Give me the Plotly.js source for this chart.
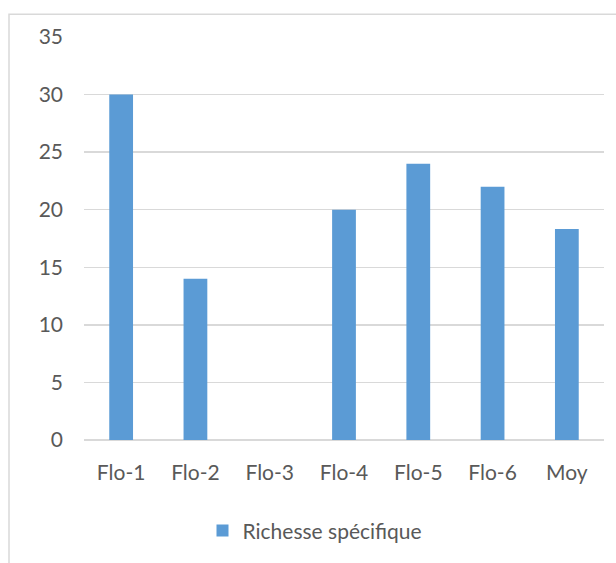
<!DOCTYPE html>
<html>
<head>
<meta charset="utf-8">
<script src="https://cdn.plot.ly/plotly-3.0.1.min.js"></script>
<style>
  html, body { margin: 0; padding: 0; background: #ffffff; }
  #chart { width: 616px; height: 563px; }
</style>
</head>
<body>
<div id="chart"></div>
<script>
// Species richness per floristic station, plus the mean
const categories = ["Flo-1", "Flo-2", "Flo-3", "Flo-4", "Flo-5", "Flo-6", "Moy"];
const richesse = [30, 14, 0, 20, 24, 22, 18.33];
const seriesName = "Richesse spécifique";
const yTicks = [0, 5, 10, 15, 20, 25, 30, 35];

const textColor = "#595959";
const gridColor = "#d9d9d9";
const barColor = "#5b9bd5";
const fontFamily = "Lato, 'Open Sans', sans-serif";
const fontSize = 21;

// plot area geometry (pixels) used to place the outer frame and legend
const W = 616, H = 563;
const m = { l: 84, r: 12, t: 37, b: 120.5 };
const pw = W - m.l - m.r, ph = H - m.t - m.b;
const px = x => (x - m.l) / pw;
const py = y => (H - m.b - y) / ph;

const trace = {
  type: "bar",
  x: categories,
  y: richesse,
  name: seriesName,
  marker: { color: barColor, line: { width: 0 } },
  width: 0.32,
  hoverinfo: "x+y"
};

const layout = {
  width: W,
  height: H,
  margin: m,
  paper_bgcolor: "#ffffff",
  plot_bgcolor: "#ffffff",
  font: { family: fontFamily, size: fontSize, color: textColor },
  showlegend: true,
  legend: {
    orientation: "h",
    x: px(315), xanchor: "center",
    y: py(534), yanchor: "middle",
    font: { family: fontFamily, size: fontSize, color: textColor },
    itemwidth: 30
  },
  xaxis: {
    type: "category",
    showgrid: false,
    showline: false,
    zeroline: false,
    ticks: "",
    ticklabelstandoff: 18,
    tickfont: { family: fontFamily, size: fontSize, color: textColor },
    fixedrange: true
  },
  yaxis: {
    range: [0, 35],
    tickvals: yTicks,
    showgrid: true,
    gridcolor: gridColor,
    gridwidth: 1.5,
    zeroline: true,
    zerolinecolor: gridColor,
    zerolinewidth: 1.5,
    showline: false,
    ticks: "",
    ticklabelstandoff: 20,
    tickfont: { family: fontFamily, size: fontSize, color: textColor },
    fixedrange: true
  },
  shapes: [{
    type: "rect",
    xref: "paper", yref: "paper",
    x0: px(9), x1: px(W + 30),
    y0: py(H + 30), y1: py(14),
    line: { color: gridColor, width: 1.5 },
    fillcolor: "rgba(0,0,0,0)",
    layer: "below"
  }]
};

Plotly.newPlot("chart", [trace], layout, { displayModeBar: false, staticPlot: true });
</script>
</body>
</html>
